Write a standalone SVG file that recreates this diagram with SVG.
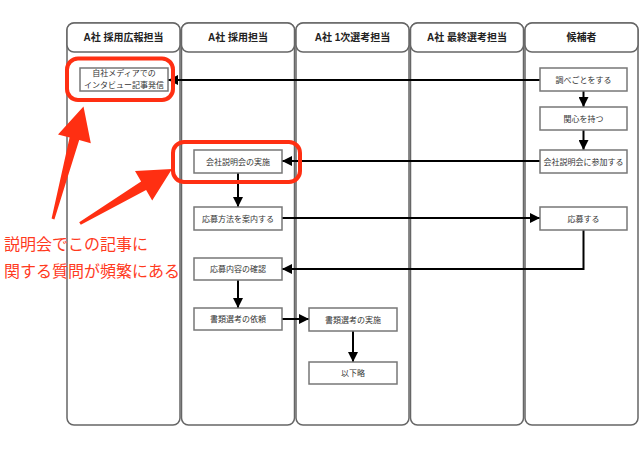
<svg xmlns="http://www.w3.org/2000/svg" width="640" height="449" viewBox="0 0 640 449">
<style>
.lane{fill:#fff;stroke:#666;stroke-width:1.5}
.hdr{fill:#fff;stroke:#666;stroke-width:1.5}
.ht{font-family:"Liberation Sans","Noto Sans CJK JP",sans-serif;font-size:10px;font-weight:bold;fill:#222;text-anchor:middle}
.box{fill:#fff;stroke:#777;stroke-width:1.5}
.nt{font-family:"Liberation Sans","Noto Sans CJK JP",sans-serif;font-size:8px;fill:#333;text-anchor:middle}
.edge{fill:none;stroke:#000;stroke-width:2;marker-end:url(#ah)}
.hl{fill:none;stroke:#ff2f12;stroke-width:4}
.ra{fill:#ff2f12}
.rt{font-family:"Liberation Sans","Noto Sans CJK JP",sans-serif;font-size:16px;fill:#ff3a1e}
</style>
<defs>
<marker id="ah" markerUnits="userSpaceOnUse" markerWidth="10" markerHeight="10" refX="10" refY="5" orient="auto">
<path d="M0,0 L10,5 L0,10 z" fill="#000"/>
</marker>
</defs>
<rect width="640" height="449" fill="#fff"/>
<g id="lanes">
<g id="lane1"><rect class="lane" x="67" y="23" width="113" height="402" rx="7"/><rect class="hdr" x="67" y="23" width="113" height="29" rx="7"/><text class="ht" x="123.5" y="41">A社 採用広報担当</text></g>
<g id="lane2"><rect class="lane" x="181.5" y="23" width="113" height="402" rx="7"/><rect class="hdr" x="181.5" y="23" width="113" height="29" rx="7"/><text class="ht" x="238" y="41">A社 採用担当</text></g>
<g id="lane3"><rect class="lane" x="296" y="23" width="113" height="402" rx="7"/><rect class="hdr" x="296" y="23" width="113" height="29" rx="7"/><text class="ht" x="352.5" y="41">A社 1次選考担当</text></g>
<g id="lane4"><rect class="lane" x="410.5" y="23" width="113" height="402" rx="7"/><rect class="hdr" x="410.5" y="23" width="113" height="29" rx="7"/><text class="ht" x="467" y="41">A社 最終選考担当</text></g>
<g id="lane5"><rect class="lane" x="525" y="23" width="113" height="402" rx="7"/><rect class="hdr" x="525" y="23" width="113" height="29" rx="7"/><text class="ht" x="581.5" y="41">候補者</text></g>
</g>
<g id="connectors">
<path class="edge" d="M540,80 L168,80"/>
<path class="edge" d="M583.5,91 L583.5,107"/>
<path class="edge" d="M583.5,130 L583.5,150"/>
<path class="edge" d="M540,161 L282,161"/>
<path class="edge" d="M238,173 L238,207"/>
<path class="edge" d="M282,218 L540,218"/>
<path class="edge" d="M583.5,230 L583.5,269 L282,269"/>
<path class="edge" d="M238,280 L238,308"/>
<path class="edge" d="M282,319 L309,319"/>
<path class="edge" d="M353,331 L353,362"/>
</g>
<g id="n1"><rect class="box" x="80" y="68" width="88" height="23"/><text class="nt" x="124" y="75.5">自社メディアでの</text><text class="nt" x="124" y="87.5">インタビュー記事発信</text></g>
<g id="n2"><rect class="box" x="194" y="150" width="88" height="23"/><text class="nt" x="238" y="164.5">会社説明会の実施</text></g>
<g id="n3"><rect class="box" x="540" y="68" width="87" height="23"/><text class="nt" x="583.5" y="82.5">調べごとをする</text></g>
<g id="n4"><rect class="box" x="540" y="107" width="87" height="23"/><text class="nt" x="583.5" y="121.5">関心を持つ</text></g>
<g id="n5"><rect class="box" x="540" y="150" width="87" height="23"/><text class="nt" x="583.5" y="164.5">会社説明会に参加する</text></g>
<g id="n6"><rect class="box" x="194" y="207" width="88" height="23"/><text class="nt" x="238" y="221.5">応募方法を案内する</text></g>
<g id="n7"><rect class="box" x="540" y="207" width="87" height="23"/><text class="nt" x="583.5" y="221.5">応募する</text></g>
<g id="n8"><rect class="box" x="194" y="258" width="88" height="22"/><text class="nt" x="238" y="272">応募内容の確認</text></g>
<g id="n9"><rect class="box" x="194" y="308" width="88" height="22"/><text class="nt" x="238" y="322">書類選考の依頼</text></g>
<g id="n10"><rect class="box" x="309" y="308" width="88" height="23"/><text class="nt" x="353" y="322.5">書類選考の実施</text></g>
<g id="n11"><rect class="box" x="309" y="362" width="88" height="22"/><text class="nt" x="353" y="376">以下略</text></g>
<g id="annotation">
<rect class="hl" x="67" y="58.5" width="106" height="41.5" rx="11"/>
<rect class="hl" x="173" y="142" width="127" height="40" rx="11"/>
<polygon class="ra" points="51.6,218.6 69.6,137.5 58,134.4 83.5,106.5 90.8,143.2 79.2,140.1 54.4,219.4"/>
<polygon class="ra" points="79.2,222.2 141.1,181.4 135,171 172,169 152.2,200.4 146.1,190 80.8,224.8"/>
<text class="rt" x="4" y="250">説明会でこの記事に</text>
<text class="rt" x="4" y="277">関する質問が頻繁にある</text>
</g>
</svg>
